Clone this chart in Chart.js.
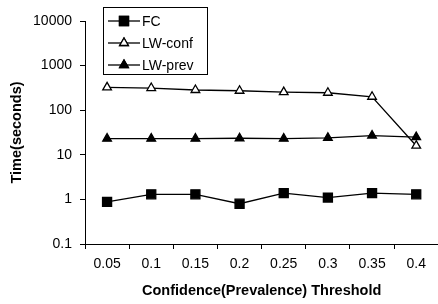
<!DOCTYPE html>
<html>
<head>
<meta charset="utf-8">
<script src="https://cdn.jsdelivr.net/npm/chart.js@4/dist/chart.umd.min.js"></script>
<style>
html,body{margin:0;padding:0;background:#fff;overflow:hidden;}
#wrap{width:446px;height:304px;position:relative;}
</style>
</head>
<body>
<div id="wrap"><canvas id="c"></canvas></div>
<script>
const categories = ['0.05','0.1','0.15','0.2','0.25','0.3','0.35','0.4'];
const fcValues = [0.88, 1.3, 1.3, 0.8, 1.38, 1.1, 1.38, 1.3];
const lwConfValues = [325, 314, 284, 273, 255, 246, 200, 16];
const lwPrevValues = [23, 23, 23, 23.5, 23, 24, 27, 25];
const yTickValues = [0.1, 1, 10, 100, 1000, 10000];
const seriesNames = ['FC', 'LW-conf', 'LW-prev'];

const FONT = 'Arial, "Liberation Sans", sans-serif';

const legendPlugin = {
  id: 'boxLegend',
  afterDraw(chart) {
    const ctx = chart.ctx;
    const x0 = 103.5, y0 = 7.5, w = 104, h = 67;
    ctx.save();
    ctx.fillStyle = '#fff';
    ctx.fillRect(x0, y0, w, h);
    ctx.strokeStyle = '#000';
    ctx.lineWidth = 1;
    ctx.strokeRect(x0, y0, w, h);
    chart.data.datasets.forEach((ds, i) => {
      const cy = 21 + i * 22;
      ctx.strokeStyle = '#000';
      ctx.lineWidth = 1.3;
      ctx.beginPath();
      ctx.moveTo(108, cy);
      ctx.lineTo(140, cy);
      ctx.stroke();
      Chart.helpers.drawPoint(ctx, {
        pointStyle: ds.pointStyle,
        radius: ds.pointRadius,
        borderWidth: 1
      }, 124, cy);
      ctx.fillStyle = ds.pointBackgroundColor;
      ctx.strokeStyle = '#000';
      ctx.fill();
      ctx.stroke();
      ctx.fillStyle = '#000';
      ctx.font = '14px ' + FONT;
      ctx.textBaseline = 'middle';
      ctx.textAlign = 'left';
      ctx.fillText(ds.label, 142, cy + 1);
    });
    ctx.restore();
  }
};

new Chart(document.getElementById('c'), {
  type: 'line',
  data: {
    labels: categories,
    datasets: [
      { label: seriesNames[0], data: fcValues, pointStyle: 'rect', pointRadius: 6.4,
        pointBackgroundColor: '#000', pointBorderColor: '#000', borderColor: '#000', borderWidth: 1.3 },
      { label: seriesNames[1], data: lwConfValues, pointStyle: 'triangle', pointRadius: 5,
        pointBackgroundColor: '#fff', pointBorderColor: '#000', borderColor: '#000', borderWidth: 1.3 },
      { label: seriesNames[2], data: lwPrevValues, pointStyle: 'triangle', pointRadius: 5,
        pointBackgroundColor: '#000', pointBorderColor: '#000', borderColor: '#000', borderWidth: 1.3 }
    ]
  },
  options: {
    responsive: true,
    maintainAspectRatio: false,
    animation: false,
    layout: { padding: { left: 0, right: 4, top: 21, bottom: 0 } },
    plugins: { legend: { display: false }, tooltip: { enabled: false } },
    elements: { line: { tension: 0 }, point: { borderWidth: 1 } },
    scales: {
      x: {
        type: 'category',
        offset: true,
        grid: { offset: true, drawOnChartArea: false, drawTicks: true, tickLength: 5, color: '#000' },
        border: { color: '#000', width: 1 },
        ticks: { color: '#000', font: { family: FONT, size: 14 }, padding: 7, maxRotation: 0 },
        title: { display: true, text: 'Confidence(Prevalence) Threshold', color: '#000',
                 font: { family: FONT, size: 14.5, weight: 'bold' }, padding: { top: 5 } },
        afterFit(s) { s.height = 60; }
      },
      y: {
        type: 'logarithmic',
        min: 0.1,
        max: 10000,
        grid: { drawOnChartArea: false, drawTicks: true, tickLength: 5, color: '#000' },
        border: { color: '#000', width: 1 },
        afterBuildTicks(s) { s.ticks = yTickValues.map(v => ({ value: v })); },
        ticks: { color: '#000', font: { family: FONT, size: 14 }, padding: 8,
                 callback: (v) => String(v) },
        title: { display: true, text: 'Time(seconds)', color: '#000',
                 font: { family: FONT, size: 14.5, weight: 'bold' }, padding: { top: 8, bottom: 0 } },
        afterFit(s) { s.width = 85; }
      }
    }
  },
  plugins: [legendPlugin]
});
</script>
</body>
</html>
